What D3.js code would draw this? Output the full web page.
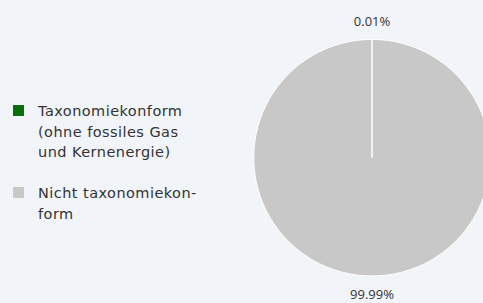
<!DOCTYPE html>
<html>
<head>
<meta charset="utf-8">
<script src="https://cdn.jsdelivr.net/npm/d3@7"></script>
<style>
	body { margin: 0; background: #f1f4f9; }
	svg { display: block; }
</style>
</head>
<body>
<div id="chart"></div>
<script>
var categories = ["Taxonomiekonform (ohne fossiles Gas und Kernenergie)", "Nicht taxonomiekonform"];
var values = [0.01, 99.99];
var valueLabels = ["0.01%", "99.99%"];
var legendLines = [["Taxonomiekonform", "(ohne fossiles Gas", "und Kernenergie)"], ["Nicht taxonomiekon-", "form"]];
var colors = ["#0a6e0a", "#c8c8c8"];

var width = 483, height = 303;
var cx = 372, cy = 157.7, radius = 118.3;

var svg = d3.select("#chart").append("svg")
	.attr("width", width)
	.attr("height", height);

var pie = d3.pie().sort(null).value(function(d) { return d; });
var arc = d3.arc().innerRadius(0).outerRadius(radius);
var labelArc = d3.arc().innerRadius(radius + 18).outerRadius(radius + 18);

var g = svg.append("g").attr("transform", "translate(" + cx + "," + cy + ")");

var slices = pie(values);

g.selectAll("path.slice")
	.data(slices)
	.enter().append("path")
	.attr("class", "slice")
	.attr("d", arc)
	.attr("fill", function(d, i) { return colors[i]; })
	.attr("stroke", "#ffffff")
	.attr("stroke-width", 1);

g.selectAll("text.lbl")
	.data(slices)
	.enter().append("text")
	.attr("class", "lbl")
	.attr("x", function(d) { return labelArc.centroid(d)[0]; })
	.attr("y", function(d) { return labelArc.centroid(d)[1]; })
	.attr("text-anchor", "middle")
	.attr("dy", "0.35em")
	.attr("font-family", "'Open Sans', sans-serif")
	.attr("font-size", 13)
	.attr("fill", "#333333")
	.text(function(d, i) { return valueLabels[i]; });

// legend
var legendTop = [116, 198];
var legend = svg.selectAll("g.legend")
	.data(categories)
	.enter().append("g")
	.attr("class", "legend")
	.attr("transform", function(d, i) { return "translate(0," + legendTop[i] + ")"; });

legend.append("rect")
	.attr("x", 13)
	.attr("y", -11)
	.attr("width", 11)
	.attr("height", 11)
	.attr("fill", function(d, i) { return colors[i]; });

legend.each(function(d, i) {
	d3.select(this).selectAll("text")
		.data(legendLines[i])
		.enter().append("text")
		.attr("x", 38)
		.attr("y", function(t, j) { return j * 20.5; })
		.attr("font-family", "'DejaVu Sans', sans-serif")
		.attr("font-size", 14.5)
		.attr("letter-spacing", 0.45)
		.attr("fill", "#333333")
		.text(function(t) { return t; });
});
</script>
</body>
</html>
